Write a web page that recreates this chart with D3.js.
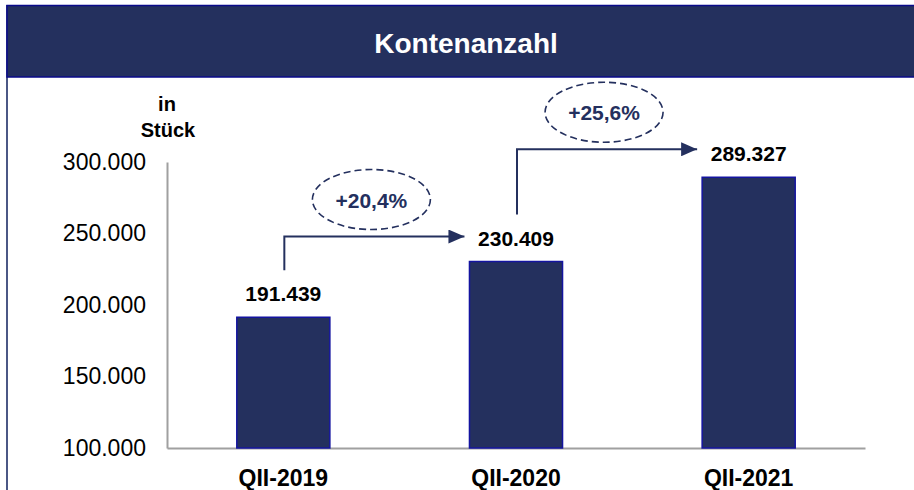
<!DOCTYPE html>
<html>
<head>
<meta charset="utf-8">
<script src="https://cdn.jsdelivr.net/npm/d3@7"></script>
<style>
  body { margin: 0; background: #fff; }
  svg { display: block; font-family: Arial, "Liberation Sans", sans-serif; }
</style>
</head>
<body>
<svg id="canvas"></svg>
<script>
let categories = ["QII-2019", "QII-2020", "QII-2021"];
let values = [191439, 230409, 289327];
let valueLabels = ["191.439", "230.409", "289.327"];
let growthLabels = ["+20,4%", "+25,6%"];
let yTicks = [100000, 150000, 200000, 250000, 300000];

let width = 914;
let height = 490;
let navy = "#24305e";
let fontFam = "Arial, 'Liberation Sans', sans-serif";

let canvas = d3.select("#canvas")
  .attr("width", width)
  .attr("height", height);

// frame + header band
canvas.append("line")
  .attr("x1", 7).attr("x2", 7)
  .attr("y1", 5).attr("y2", height)
  .attr("stroke", "#4b5785").attr("stroke-width", 2);
canvas.append("rect")
  .attr("x", 7).attr("y", 5.5)
  .attr("width", width).attr("height", 71.5)
  .attr("fill", navy)
  .attr("stroke", "#0a0a8a")
  .attr("stroke-width", 1.5);
canvas.append("text")
  .attr("x", 466).attr("y", 53)
  .attr("text-anchor", "middle")
  .attr("fill", "#fff")
  .attr("font-size", 28)
  .attr("font-weight", "bold")
  .text("Kontenanzahl");

let xScale = d3.scaleBand()
  .domain(categories)
  .range([167, 865])
  .paddingInner(0.6)
  .paddingOuter(0.3);

let yScale = d3.scaleLinear()
  .domain([100000, 300000])
  .range([448, 162]);

let fmt = d3.formatLocale({decimal: ",", thousands: ".", grouping: [3], currency: ["", "€"]}).format(",d");

// y axis
let yAxis = d3.axisLeft(yScale)
  .tickValues(yTicks)
  .tickFormat(fmt)
  .tickSize(0)
  .tickPadding(21);
let gy = canvas.append("g")
  .attr("transform", "translate(167,0)")
  .call(yAxis);
gy.select(".domain").attr("stroke", "#a0a0a0").attr("stroke-width", 2);
gy.selectAll("text")
  .attr("font-size", 23)
  .attr("font-family", fontFam)
  .attr("fill", "#000");

// x axis
let xAxis = d3.axisBottom(xScale)
  .tickSize(0)
  .tickPadding(22);
let gx = canvas.append("g")
  .attr("transform", "translate(0,448)")
  .call(xAxis);
gx.select(".domain").attr("stroke", "#a0a0a0").attr("stroke-width", 2);
gx.selectAll("text")
  .attr("font-size", 23)
  .attr("font-weight", "bold")
  .attr("font-family", fontFam)
  .attr("fill", "#000");

// unit label
canvas.append("text")
  .attr("x", 167).attr("y", 111)
  .attr("text-anchor", "middle")
  .attr("font-size", 20).attr("font-weight", "bold")
  .text("in");
canvas.append("text")
  .attr("x", 168).attr("y", 137)
  .attr("text-anchor", "middle")
  .attr("font-size", 20).attr("font-weight", "bold")
  .text("Stück");

// bars
canvas.selectAll("rect.bar")
  .data(values)
  .enter()
  .append("rect")
  .attr("class", "bar")
  .attr("x", (d, i) => xScale(categories[i]))
  .attr("y", (d) => yScale(d))
  .attr("width", xScale.bandwidth())
  .attr("height", (d) => 448 - yScale(d))
  .attr("fill", navy)
  .attr("stroke", "#1414a0")
  .attr("stroke-width", 1.5);

// value labels
canvas.selectAll("text.val")
  .data(values)
  .enter()
  .append("text")
  .attr("class", "val")
  .attr("x", (d, i) => xScale(categories[i]) + xScale.bandwidth() / 2)
  .attr("y", (d) => yScale(d) - 16)
  .attr("text-anchor", "middle")
  .attr("font-size", 21)
  .attr("font-weight", "bold")
  .text((d, i) => valueLabels[i]);

// growth arrows
canvas.append("defs").append("marker")
  .attr("id", "arrow")
  .attr("viewBox", "0 0 8 7")
  .attr("refX", 8).attr("refY", 3.5)
  .attr("markerWidth", 8).attr("markerHeight", 7)
  .attr("markerUnits", "strokeWidth")
  .attr("orient", "auto")
  .append("path")
  .attr("d", "M0,0 L8,3.5 L0,7 z")
  .attr("fill", navy);

let lineOffsets = [25, 28];
growthLabels.forEach((g, i) => {
  let cx = xScale(categories[i]) + xScale.bandwidth() / 2 + 1;
  let startY = yScale(values[i]) - 47;
  let lineY = yScale(values[i + 1]) - lineOffsets[i];
  let endX = xScale(categories[i + 1]) - 5;
  canvas.append("path")
    .attr("d", `M${cx},${startY} V${lineY} H${endX}`)
    .attr("fill", "none")
    .attr("stroke", navy)
    .attr("stroke-width", 2)
    .attr("marker-end", "url(#arrow)");

  let ex = (cx + endX) / 2 - 3;
  let ey = lineY - 37;
  canvas.append("ellipse")
    .attr("cx", ex).attr("cy", ey)
    .attr("rx", 59).attr("ry", 30)
    .attr("fill", "none")
    .attr("stroke", navy)
    .attr("stroke-width", 1.6)
    .attr("stroke-dasharray", "7,4");
  canvas.append("text")
    .attr("x", ex).attr("y", ey + 8)
    .attr("text-anchor", "middle")
    .attr("font-size", 21)
    .attr("font-weight", "bold")
    .attr("fill", navy)
    .text(g);
});
</script>
</body>
</html>
